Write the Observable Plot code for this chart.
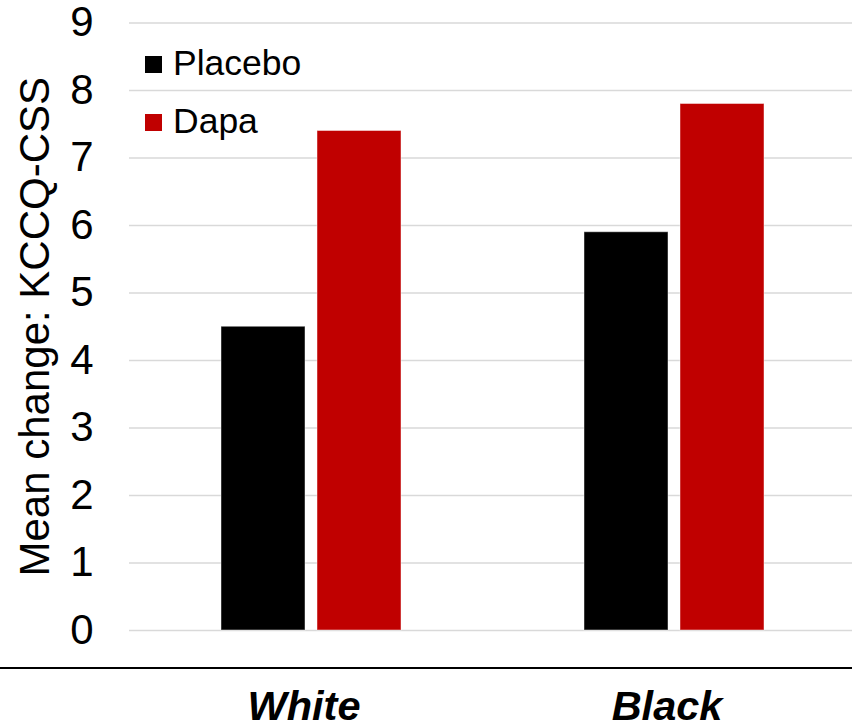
<!DOCTYPE html>
<html>
<head>
<meta charset="utf-8">
<script src="https://cdn.jsdelivr.net/npm/d3@7"></script>
<script src="https://cdn.jsdelivr.net/npm/@observablehq/plot@0.6"></script>
<style>
  html, body { margin: 0; padding: 0; background: #fff; }
  #chart svg { display: block; }
</style>
</head>
<body>
<div id="chart"></div>
<script>
// Mean change in KCCQ-CSS by race and treatment arm
const groups = ["White", "Black"];
const series = ["Placebo", "Dapa"];
const colors = ["#000000", "#C00000"];
const placeboValues = [4.5, 5.9];
const dapaValues = [7.4, 7.8];
const yTicks = [0, 1, 2, 3, 4, 5, 6, 7, 8, 9];

const rows = groups.flatMap((g, i) => [
  {group: g, series: "Placebo", value: placeboValues[i]},
  {group: g, series: "Dapa", value: dapaValues[i]}
]);

const font = "'Liberation Sans', Arial, Helvetica, sans-serif";

const chart = Plot.plot({
  width: 852,
  height: 725,
  marginTop: 22.5,
  marginBottom: 95,
  marginLeft: 129,
  marginRight: -3,
  style: {fontFamily: font, background: "#fff", color: "#000"},
  fx: {domain: groups, paddingInner: 0, paddingOuter: 0, label: null},
  x: {domain: series, paddingInner: 0.125, paddingOuter: 0.948, axis: null},
  y: {domain: [0, 9], axis: null},
  color: {domain: series, range: colors},
  marks: [
    Plot.gridY(yTicks, {stroke: "#d9d9d9", strokeOpacity: 1, strokeWidth: 1.6}),
    Plot.barY(rows, {
      fx: "group", x: "series", y: "value", fill: "series",
      stroke: "#fff", strokeOpacity: 0.45, strokeWidth: 1
    }),
    Plot.axisY(yTicks, {
      tickSize: 0, tickPadding: 36, fontSize: 42,
      tickFormat: (d) => String(d),
      label: "Mean change: KCCQ-CSS", labelAnchor: "center", labelArrow: "none",
      labelOffset: 110
    }),
    Plot.axisFx({
      anchor: "bottom",
      tickSize: 0, tickPadding: 60, fontSize: 41.5, dx: -7,
      fontWeight: "bold", fontStyle: "italic", label: null
    })
  ]
});

const svg = d3.select(chart);
const y0 = chart.scale("y").apply(0);

// baseline rule under the plot area, full width
svg.append("line")
  .attr("x1", 0).attr("x2", 852)
  .attr("y1", y0 + 38).attr("y2", y0 + 38)
  .attr("stroke", "#000").attr("stroke-width", 2);

// legend: stacked swatches in the upper left of the plot
const legend = svg.append("g")
  .attr("transform", "translate(145,56)")
  .attr("font-family", font)
  .attr("font-size", 35.5)
  .attr("text-anchor", "start");
series.forEach((s, i) => {
  const row = legend.append("g").attr("transform", `translate(0,${i * 58})`);
  row.append("rect").attr("width", 17).attr("height", 17).attr("fill", colors[i]);
  row.append("text").attr("x", 28).attr("y", 19).attr("fill", "#000").text(s);
});

document.getElementById("chart").appendChild(chart);
</script>
</body>
</html>
